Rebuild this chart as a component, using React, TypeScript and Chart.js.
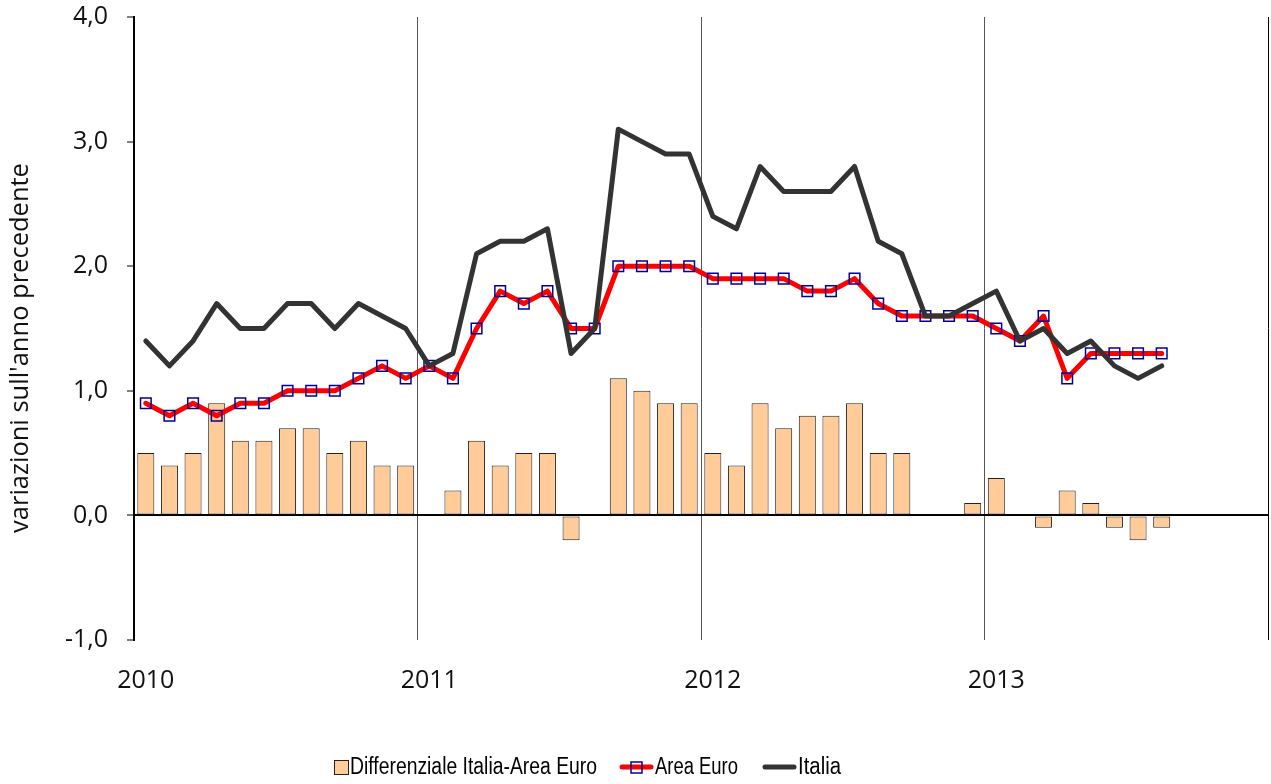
import React, { useEffect, useRef } from 'react';
import { Chart, registerables } from 'chart.js';

Chart.register(...registerables);

// 48 monthly categories, Jan 2010 - Dec 2013
const years = [2010, 2011, 2012, 2013];
const monthNames = ['gen', 'feb', 'mar', 'apr', 'mag', 'giu', 'lug', 'ago', 'set', 'ott', 'nov', 'dic'];
const categories: string[] = years.flatMap((y) => monthNames.map((m) => `${m} ${y}`));
const xTickLabels: string[] = categories.map((_, i) => (i % 12 === 0 ? String(years[i / 12]) : ''));

const differenziale = [
  0.5, 0.4, 0.5, 0.9, 0.6, 0.6, 0.7, 0.7, 0.5, 0.6, 0.4, 0.4,
  0.0, 0.2, 0.6, 0.4, 0.5, 0.5, -0.2, 0.0, 1.1, 1.0, 0.9, 0.9,
  0.5, 0.4, 0.9, 0.7, 0.8, 0.8, 0.9, 0.5, 0.5, 0.0, 0.0, 0.1,
  0.3, 0.0, -0.1, 0.2, 0.1, -0.1, -0.2, -0.1,
];
const areaEuro = [
  0.9, 0.8, 0.9, 0.8, 0.9, 0.9, 1.0, 1.0, 1.0, 1.1, 1.2, 1.1,
  1.2, 1.1, 1.5, 1.8, 1.7, 1.8, 1.5, 1.5, 2.0, 2.0, 2.0, 2.0,
  1.9, 1.9, 1.9, 1.9, 1.8, 1.8, 1.9, 1.7, 1.6, 1.6, 1.6, 1.6,
  1.5, 1.4, 1.6, 1.1, 1.3, 1.3, 1.3, 1.3,
];
const italia = [
  1.4, 1.2, 1.4, 1.7, 1.5, 1.5, 1.7, 1.7, 1.5, 1.7, 1.6, 1.5,
  1.2, 1.3, 2.1, 2.2, 2.2, 2.3, 1.3, 1.5, 3.1, 3.0, 2.9, 2.9,
  2.4, 2.3, 2.8, 2.6, 2.6, 2.6, 2.8, 2.2, 2.1, 1.6, 1.6, 1.7,
  1.8, 1.4, 1.5, 1.3, 1.4, 1.2, 1.1, 1.2,
];
const yTicks = [-1, 0, 1, 2, 3, 4];
const yTitle = "variazioni sull'anno precedente";
const legendLabels = ['Differenziale Italia-Area Euro', 'Area Euro', 'Italia'];

const BAR_FILL = '#FFCC99';
const BAR_BORDER = '#222222';
const EURO_COLOR = '#FF0000';
const EURO_MARKER = '#000099';
const ITALIA_COLOR = '#333333';
const FONT = '"Open Sans", "DejaVu Sans", sans-serif';
const NARROW = '"Liberation Sans Narrow", "Liberation Sans", sans-serif';

function condensedText(ctx: CanvasRenderingContext2D, text: string, x: number, y: number, width: number) {
  const natural = ctx.measureText(text).width;
  const sx = natural > 0 ? Math.min(1, width / natural) : 1;
  ctx.save();
  ctx.translate(x, y);
  ctx.scale(sx, 1);
  ctx.fillText(text, 0, 0);
  ctx.restore();
}

const overlayPlugin = {
  id: 'overlay',
  afterDraw(chart: any) {
    const ctx: CanvasRenderingContext2D = chart.ctx;
    // Y axis title
    ctx.save();
    ctx.translate(21, 348);
    ctx.rotate(-Math.PI / 2);
    ctx.font = `25.5px ${FONT}`;
    ctx.fillStyle = '#111';
    ctx.textAlign = 'center';
    ctx.textBaseline = 'middle';
    ctx.fillText(yTitle, 0, 0, 372);
    ctx.restore();

    // Legend
    const ly = 767;
    ctx.save();
    ctx.font = `23.5px ${NARROW}`;
    ctx.textAlign = 'left';
    ctx.textBaseline = 'middle';
    // bar item
    ctx.fillStyle = BAR_FILL;
    ctx.fillRect(334, 760, 14, 14);
    ctx.strokeStyle = BAR_BORDER;
    ctx.lineWidth = 1;
    ctx.strokeRect(334.5, 760.5, 14, 14);
    ctx.fillStyle = '#000';
    condensedText(ctx, legendLabels[0], 350, ly + 1, 247);
    // Area Euro item
    ctx.strokeStyle = EURO_COLOR;
    ctx.lineWidth = 5;
    ctx.lineCap = 'round';
    ctx.beginPath();
    ctx.moveTo(622, ly);
    ctx.lineTo(651, ly);
    ctx.stroke();
    ctx.strokeStyle = EURO_MARKER;
    ctx.lineWidth = 1.5;
    ctx.strokeRect(631, 762, 11, 11);
    condensedText(ctx, legendLabels[1], 655, ly + 1, 83);
    // Italia item
    ctx.strokeStyle = ITALIA_COLOR;
    ctx.lineWidth = 5;
    ctx.beginPath();
    ctx.moveTo(765, ly);
    ctx.lineTo(794, ly);
    ctx.stroke();
    condensedText(ctx, legendLabels[2], 798, ly + 1, 43);
    ctx.restore();
  },
};

export default function App() {
  const canvasRef = useRef<HTMLCanvasElement | null>(null);

  useEffect(() => {
    const canvas = canvasRef.current;
    if (!canvas) return;
    const chart = new Chart(canvas, {
      type: 'bar',
      data: {
        labels: categories,
        datasets: [
          {
            type: 'bar',
            label: legendLabels[0],
            data: differenziale,
            backgroundColor: BAR_FILL,
            borderColor: BAR_BORDER,
            borderWidth: 1,
            borderSkipped: false,
            barPercentage: 0.72,
            categoryPercentage: 1,
            order: 3,
          },
          {
            type: 'line',
            label: legendLabels[1],
            data: areaEuro,
            borderColor: EURO_COLOR,
            borderWidth: 5,
            borderJoinStyle: 'round',
            borderCapStyle: 'round',
            tension: 0,
            pointStyle: 'rect',
            pointRadius: 7.5,
            pointBorderWidth: 1.5,
            pointBorderColor: EURO_MARKER,
            pointBackgroundColor: 'rgba(0,0,0,0)',
            order: 2,
          },
          {
            type: 'line',
            label: legendLabels[2],
            data: italia,
            borderColor: ITALIA_COLOR,
            borderWidth: 5,
            borderJoinStyle: 'round',
            borderCapStyle: 'round',
            tension: 0,
            pointRadius: 0,
            order: 1,
          },
        ],
      } as any,
      options: {
        animation: false,
        responsive: false,
        devicePixelRatio: 1,
        layout: { autoPadding: false, padding: { top: 17, right: 3, left: 0, bottom: 0 } },
        plugins: {
          legend: { display: false },
          tooltip: { enabled: false },
          title: { display: false },
        },
        scales: {
          x: {
            type: 'category',
            offset: true,
            afterFit: (scale: any) => {
              scale.height = 144;
              scale.paddingLeft = 0;
              scale.paddingRight = 0;
            },
            border: { display: false },
            grid: {
              offset: true,
              drawTicks: false,
              lineWidth: 1,
              color: (ctx: any) => {
                if (ctx.index === undefined) return '#000000';
                return ctx.index % 12 === 0 ? '#555555' : 'rgba(0,0,0,0)';
              },
            },
            ticks: {
              autoSkip: false,
              maxRotation: 0,
              minRotation: 0,
              padding: 26,
              color: '#111',
              font: { family: FONT, size: 25 },
              callback: (_v: any, i: number) => xTickLabels[i],
            },
          },
          y: {
            min: yTicks[0],
            max: yTicks[yTicks.length - 1],
            afterFit: (scale: any) => {
              scale.width = 134;
              scale.paddingTop = 0;
              scale.paddingBottom = 0;
            },
            afterBuildTicks: (scale: any) => {
              scale.ticks = yTicks.map((v) => ({ value: v }));
            },
            border: { display: true, color: '#000', width: 2 },
            grid: {
              drawTicks: true,
              tickLength: 7,
              tickColor: '#000',
              tickWidth: 1,
              lineWidth: 2,
              color: (ctx: any) => (ctx.tick && ctx.tick.value === 0 ? '#000000' : 'rgba(0,0,0,0)'),
            },
            ticks: {
              padding: 19,
              color: '#111',
              font: { family: FONT, size: 25 },
              callback: (v: any) => Number(v).toFixed(1).replace('.', ','),
            },
          },
        },
      } as any,
      plugins: [overlayPlugin],
    });
    return () => chart.destroy();
  }, []);

  return (
    <div style={{ position: 'absolute', left: 0, top: 0, width: 1271, height: 784, background: '#fff' }}>
      <canvas ref={canvasRef} width={1271} height={784} style={{ display: 'block' }} />
    </div>
  );
}
